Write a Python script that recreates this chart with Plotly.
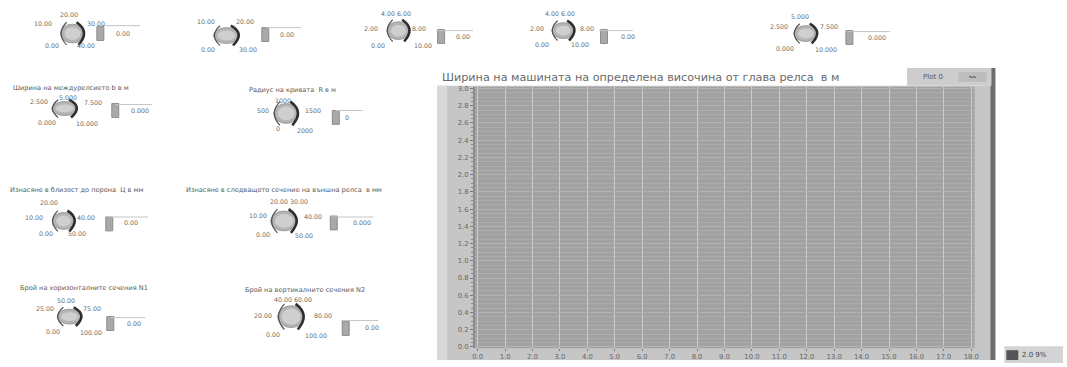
import plotly.graph_objects as go

# ---------------- data ----------------
chart_title = "Ширина на машината на определена височина от глава релса  в м"
series_name = "Plot 0"
plot0_x = []          # the chart is empty in the reference
plot0_y = []
x_tick_values = [i * 1.0 for i in range(19)]
x_tick_labels = [f"{v:.1f}" for v in x_tick_values]
y_tick_values = [i * 0.2 for i in range(16)]
y_tick_labels = [f"{v:.1f}" for v in y_tick_values]

knob_captions = [
    "",
    "",
    "",
    "",
    "",
    "Ширина на междурелсието b в м",
    "Радиус на кривата  R в м",
    "Изнасяне в близост до перона  Ц в мм",
    "Изнасяне в следващото сечение на външна релса  в мм",
    "Брой на хоризонталните сечения N1",
    "Брой на вертикалните сечения N2",
]
knob_scale_labels = [
    ["20.00", "10.00", "30.00", "0.00", "40.00"],
    ["10.00", "20.00", "0.00", "30.00"],
    ["4.00 6.00", "2.00", "8.00", "0.00", "10.00"],
    ["4.00 6.00", "2.00", "8.00", "0.00", "10.00"],
    ["5.000", "2.500", "7.500", "0.000", "10.000"],
    ["5.000", "2.500", "7.500", "0.000", "10.000"],
    ["1000", "500", "1500", "0", "2000"],
    ["20.00", "10.00", "40.00", "0.00", "50.00"],
    ["20.00 30.00", "10.00", "40.00", "0.00", "50.00"],
    ["50.00", "25.00", "75.00", "0.00", "100.00"],
    ["40.00 60.00", "20.00", "80.00", "0.00", "100.00"],
]
knob_values = ["0.00", "0.00", "0.00", "0.00", "0.000", "0.000", "0", "0.00", "0.000", "0.00", "0.00"]

# ---------------- layout geometry (pixels) ----------------
W, H = 1067, 367


def fx(x):
    return x / W


def fy(y):
    return 1 - y / H


knobs = [
    dict(c=(70, 32), s=(24, 19), cap=None,
         lab=[(66, 13), (40, 22), (94, 22), (49, 44), (84, 44)],
         arr=(98, 32), val=(112, 32), line=(100, 138, 24)),
    dict(c=(225, 34), s=(26, 16), cap=None,
         lab=[(204, 20), (244, 20), (206, 48), (247, 48)],
         arr=(264, 33), val=(277, 33), line=(265, 300, 26)),
    dict(c=(398, 29), s=(23, 18), cap=None,
         lab=[(396, 12), (370, 27), (419, 27), (377, 44), (423, 44)],
         arr=(441, 35), val=(454, 35), line=(436, 473, 29)),
    dict(c=(564, 29), s=(23, 16), cap=None,
         lab=[(561, 12), (538, 27), (588, 27), (543, 43), (581, 43)],
         arr=(605, 35), val=(620, 35), line=(600, 634, 29)),
    dict(c=(808, 32), s=(24, 16), cap=None,
         lab=[(802, 15), (781, 25), (831, 25), (787, 47), (828, 48)],
         arr=(852, 36), val=(869, 36), line=(850, 893, 30)),
    dict(c=(62, 108), s=(26, 14), cap=(8, 87),
         lab=[(65, 97), (36, 101), (91, 102), (44, 122), (85, 123)],
         arr=(113, 110), val=(127, 110), line=(113, 150, 104)),
    dict(c=(285, 113), s=(25, 20), cap=(246, 89),
         lab=[(282, 100), (262, 110), (312, 110), (277, 128), (304, 130)],
         arr=(335, 117), val=(342, 117), line=(335, 362, 110)),
    dict(c=(61, 222), s=(23, 17), cap=(5, 191),
         lab=[(46, 203), (31, 218), (84, 218), (43, 235), (74, 235)],
         arr=(107, 225), val=(120, 224), line=(105, 146, 218)),
    dict(c=(283, 222), s=(27, 20), cap=(182, 191),
         lab=[(288, 202), (257, 216), (312, 217), (262, 236), (303, 237)],
         arr=(333, 224), val=(350, 224), line=(330, 373, 218)),
    dict(c=(67, 319), s=(25, 15), cap=(15, 290),
         lab=[(63, 303), (42, 311), (90, 311), (50, 334), (89, 335)],
         arr=(108, 326), val=(123, 326), line=(108, 143, 320)),
    dict(c=(290, 319), s=(27, 22), cap=(242, 292),
         lab=[(292, 302), (262, 318), (322, 318), (272, 337), (315, 338)],
         arr=(345, 331), val=(362, 330), line=(340, 378, 323)),
]

PX = dict(xref="paper", yref="paper")
shapes = []
annotations = []
txt_col = "#6a6a6a"
small_font = dict(family="DejaVu Sans, Arial, sans-serif", size=6.3, color=txt_col)
caption_font = dict(family="DejaVu Sans, Arial, sans-serif", size=6.6, color="#5a5a5a")


def rect(x0, x1, y0, y1, fill, layer="below", line=None):
    shapes.append(dict(type="rect", x0=fx(x0), x1=fx(x1), y0=fy(y1), y1=fy(y0),
                       fillcolor=fill, line=line or dict(width=0), layer=layer, **PX))


def text(x, y, t, font, xanchor="center"):
    annotations.append(dict(x=fx(x), y=fy(y), text=t, showarrow=False, xanchor=xanchor,
                            yanchor="middle", font=font, **PX))


left, right, top, bottom = 475, 978, 86, 351

# chart panel
rect(437, 997, 85, 363, "#c6c6c6")
rect(437, 447, 85, 363, "#d8d8d8")
rect(994, 999, 67, 363, "#6e6e6e")
rect(left, right, top, bottom, "#a2a2a2")  # plot area background
# legend box
rect(910, 995, 67, 85, "#cdcdcd")
rect(962, 990, 71, 81, "#bdbdbd")
text(936, 76, series_name, dict(family="DejaVu Sans, Arial", size=7, color="#555"))
text(976, 76, "〰", dict(size=7, color="#555"))
# chart title
text(440, 77, chart_title, dict(family="DejaVu Sans, Arial", size=11.2, color="#6a6a6a"),
     xanchor="left")
# bottom-right palette
rect(1008, 1067, 349, 366, "#d4d4d4")
rect(1010, 1022, 353, 363, "#555555")
text(1024, 358, "2.0 9%", dict(family="DejaVu Sans, Arial", size=7, color="#444"), xanchor="left")

for k, caption, labs, val in zip(knobs, knob_captions, knob_scale_labels, knob_values):
    cx, cy = k["c"]
    w, h = k["s"]
    shapes.append(dict(type="circle", x0=fx(cx - w / 2), x1=fx(cx + w / 2),
                       y0=fy(cy + h / 2), y1=fy(cy - h / 2),
                       fillcolor="#b4b4b4", line=dict(color="#9a9a9a", width=1), **PX))
    shapes.append(dict(type="circle", x0=fx(cx - w / 2 + 4), x1=fx(cx + w / 2 - 4),
                       y0=fy(cy + h / 2 - 3), y1=fy(cy - h / 2 + 3),
                       fillcolor="#cfcfcf", line=dict(width=0), **PX))
    lx = cx - w / 2 - 2
    shapes.append(dict(type="path",
                       path=(f"M {fx(cx - w/4)},{fy(cy - h/2 - 2)} Q {fx(lx - 3)},{fy(cy)} "
                             f"{fx(cx - w/4)},{fy(cy + h/2 + 2)}"),
                       line=dict(color="#505050", width=1.2), **PX))
    rx = cx + w / 2 + 2
    shapes.append(dict(type="path",
                       path=(f"M {fx(cx + w/6)},{fy(cy - h/2 - 2)} Q {fx(rx + 4)},{fy(cy - 2)} "
                             f"{fx(cx + w/4)},{fy(cy + h/2 + 2)}"),
                       line=dict(color="#2e2e2e", width=2.6), **PX))
    for (lx_, ly_), t in zip(k["lab"], labs):
        text(lx_, ly_, t, small_font)
    ax, ay = k["arr"]
    rect(ax - 3.5, ax + 3.5, ay - 7, ay + 7, "#a9a9a9", layer="above",
         line=dict(color="#8a8a8a", width=1))
    x0, x1, ly = k["line"]
    shapes.append(dict(type="line", x0=fx(x0), x1=fx(x1), y0=fy(ly), y1=fy(ly),
                       line=dict(color="#c4c4c4", width=1), **PX))
    vx, vy = k["val"]
    text(vx, vy, val, small_font, xanchor="left")
    if k["cap"] is not None and caption:
        capx, capy = k["cap"]
        text(capx, capy, caption, caption_font, xanchor="left")

fig = go.Figure()
fig.add_trace(go.Scatter(x=plot0_x, y=plot0_y, mode="lines", name=series_name,
                         line=dict(color="white"), showlegend=False))

fig.update_layout(
    width=W, height=H,
    margin=dict(l=0, r=0, t=0, b=0),
    paper_bgcolor="white",
    plot_bgcolor="rgba(0,0,0,0)",
    showlegend=False,
    xaxis=dict(domain=[left / W, right / W], range=[-0.1, 18.12],
               tickmode="array", tickvals=x_tick_values, ticktext=x_tick_labels,
               showgrid=True, gridcolor="#cbcbcb", gridwidth=1,
               ticks="outside", ticklen=2, tickcolor="#777",
               tickfont=dict(family="DejaVu Sans, Arial", size=6.8, color="#666"),
               zeroline=False, showline=False, fixedrange=True),
    yaxis=dict(domain=[(H - bottom) / H, (H - top) / H], range=[-0.015, 3.02],
               tickmode="array", tickvals=y_tick_values, ticktext=y_tick_labels,
               showgrid=True, gridcolor="#b4b4b4", gridwidth=1,
               minor=dict(dtick=0.05, showgrid=True, gridcolor="#acacac", gridwidth=1,
                          ticks="outside", ticklen=2, tickcolor="#888"),
               ticks="outside", ticklen=3, tickcolor="#777",
               tickfont=dict(family="DejaVu Sans, Arial", size=6.8, color="#666"),
               zeroline=False, showline=True, linecolor="#8c8c8c", linewidth=2,
               fixedrange=True),
    shapes=shapes,
    annotations=annotations,
)

fig.write_html(
    "out.html",
    config={"displayModeBar": False},
    post_script="document.body.style.margin='0';document.body.style.padding='0';"
                "document.body.style.overflow='hidden';",
)
